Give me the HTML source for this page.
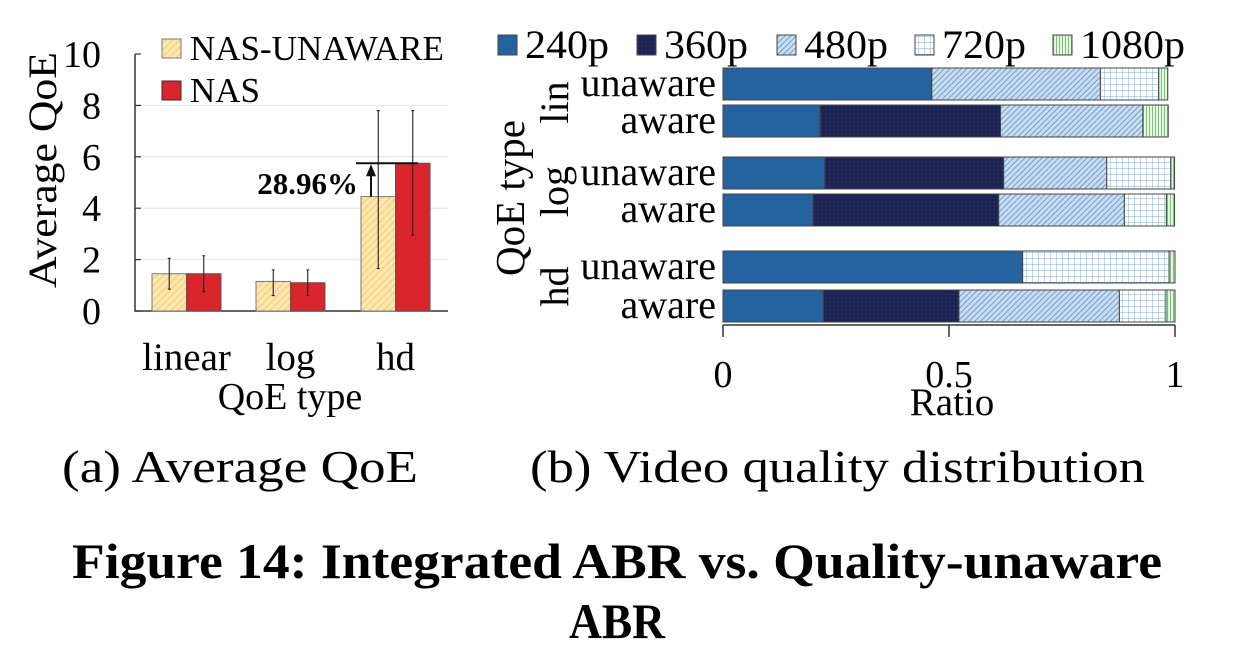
<!DOCTYPE html>
<html><head><meta charset="utf-8"><style>
html,body{margin:0;padding:0;background:#fff;}
svg{display:block;font-family:"Liberation Serif",serif;}
</style></head><body>
<svg id="fig" width="1234" height="662" viewBox="0 0 1234 662" xmlns="http://www.w3.org/2000/svg">
<defs>
<pattern id="pUn" width="5" height="5" patternUnits="userSpaceOnUse" patternTransform="rotate(45)"><rect width="5" height="5" fill="#fde7b0"/><line x1="0" y1="0" x2="0" y2="5" stroke="#f3c25a" stroke-width="1.6"/></pattern>
<pattern id="p360" width="4" height="4" patternUnits="userSpaceOnUse"><rect width="4" height="4" fill="#1c2252"/><circle cx="2" cy="2" r="0.5" fill="#4a5590"/></pattern>
<pattern id="p480" width="4" height="4" patternUnits="userSpaceOnUse" patternTransform="rotate(45)"><rect width="4" height="4" fill="#c9dcf0"/><line x1="0" y1="0" x2="0" y2="4" stroke="#4f86c6" stroke-width="1.4"/></pattern>
<pattern id="p720" width="6" height="6" patternUnits="userSpaceOnUse"><rect width="6" height="6" fill="#fff"/><path d="M0 0H6M0 0V6" stroke="#6cb2e0" stroke-width="1"/></pattern>
<pattern id="p1080" width="3" height="3" patternUnits="userSpaceOnUse"><rect width="3" height="3" fill="#e6f4e2"/><line x1="0.5" y1="0" x2="0.5" y2="3" stroke="#7cc27a" stroke-width="1"/></pattern>
</defs>
<g id="left"></g>
<g id="right"></g>
<text x="62" y="482" font-size="46" textLength="356" lengthAdjust="spacingAndGlyphs">(a) Average QoE</text>
<text x="530" y="482" font-size="46" textLength="615" lengthAdjust="spacingAndGlyphs">(b) Video quality distribution</text>
<text x="72" y="578" font-size="50" font-weight="bold" textLength="1090" lengthAdjust="spacingAndGlyphs">Figure 14: Integrated ABR vs. Quality-unaware</text>
<text x="617" y="638" font-size="50" font-weight="bold" text-anchor="middle" textLength="96" lengthAdjust="spacingAndGlyphs">ABR</text>
</svg>
<script>
const qoeCats = ['linear','log','hd'];
const unawareVals = [1.45, 1.15, 4.45];
const nasVals = [1.45, 1.1, 5.75];
const unawareErrLo = [0.85, 0.6, 1.65];
const unawareErrHi = [2.05, 1.6, 7.8];
const nasErrLo = [0.75, 0.6, 2.95];
const nasErrHi = [2.15, 1.6, 7.8];
const yTicks = [0,2,4,6,8,10];

const rowLabels = ['unaware','aware','unaware','aware','unaware','aware'];
const groupLabels = ['lin','log','hd'];
const qualityNames = ['240p','360p','480p','720p','1080p'];
const r240 = [0.462,0.215,0.225,0.199,0.663,0.222];
const r360 = [0,0.399,0.396,0.411,0,0.300];
const r480 = [0.373,0.315,0.228,0.278,0,0.355];
const r720 = [0.129,0,0.142,0.093,0.324,0.103];
const r1080 = [0.020,0.056,0.008,0.018,0.013,0.020];
const xTicks = [0,0.5,1];
const xTickLabels = ['0','0.5','1'];

const NS='http://www.w3.org/2000/svg';
function mk(parent,tag,attrs,text){const e=document.createElementNS(NS,tag);for(const k in attrs)e.setAttribute(k,attrs[k]);if(text!==undefined)e.textContent=text;parent.appendChild(e);return e;}

// Left chart
const L=document.getElementById('left');
const y=v=>311-v*25.7;
const groupX=[152,256,361], bw=34.5;
yTicks.forEach(t=>{
  if(t>0&&t<10){const g=mk(L,'line',{x1:135,x2:448,y1:y(t),y2:y(t),stroke:'#e2e2e2','stroke-width':1});
  
  }
  const tk=mk(L,'line',{x1:135,x2:141,y1:y(t),y2:y(t),stroke:'#333','stroke-width':1.2});
  
  
  const lb=mk(L,'text',{x:101,y:y(t)+13,'font-size':38,'text-anchor':'end'},String(t));
  
  
});
const ax=mk(L,'path',{d:'M135 54V311H448',fill:'none',stroke:'#333','stroke-width':1.5});


qoeCats.forEach((c,i)=>{
  const x0=groupX[i];
  const b1=mk(L,'rect',{x:x0,y:y(unawareVals[i]),width:bw,height:311-y(unawareVals[i]),fill:'url(#pUn)',stroke:'#777','stroke-width':1});
  
  
  const b2=mk(L,'rect',{x:x0+bw,y:y(nasVals[i]),width:bw,height:311-y(nasVals[i]),fill:'#d9252b',stroke:'#555','stroke-width':1});
  
  
  [[x0+bw/2,unawareErrLo[i],unawareErrHi[i]],[x0+bw*1.5,nasErrLo[i],nasErrHi[i]]].forEach(([cx,lo,hi])=>{
    const e=mk(L,'path',{d:`M${cx} ${y(lo)}V${y(hi)}M${cx-1.5} ${y(lo)}H${cx+1.5}M${cx-1.5} ${y(hi)}H${cx+1.5}`,stroke:'#222','stroke-width':1.1,fill:'none'});
    
    
  });
  const xl=mk(L,'text',{x:x0+bw,y:370,'font-size':39,'text-anchor':'middle'},c);
  
  
});
const hdTop=y(nasVals[2]);
const an=mk(L,'path',{d:`M356 ${hdTop}H418M371 ${y(unawareVals[2])}V${hdTop+12}`,stroke:'#111','stroke-width':2,fill:'none'});


const ah=mk(L,'path',{d:`M366 ${hdTop+13}L371 ${hdTop+1}L376 ${hdTop+13}Z`,fill:'#111'});


const at=mk(L,'text',{x:358,y:194,'font-size':31,'font-weight':'bold','text-anchor':'end'},'28.96%');


const xt=mk(L,'text',{x:290,y:409,'font-size':38,'text-anchor':'middle'},'QoE type');


const yt=mk(L,'text',{x:0,y:0,'font-size':40,'text-anchor':'middle',textLength:236,lengthAdjust:'spacingAndGlyphs',transform:'translate(56,170) rotate(-90)'},'Average QoE');


[['url(#pUn)','#777','NAS-UNAWARE',39],['#d9252b','#333','NAS',81]].forEach(([f,s,t,yy])=>{
  const sw=mk(L,'rect',{x:162,y:yy,width:19,height:19,fill:f,stroke:s,'stroke-width':1});
  
  
  const lt=mk(L,'text',{x:190,y:yy+21,'font-size':35},t);
  
  
});

// Right chart
const R=document.getElementById('right');
const X=v=>723+v*452;
const rowY=[68,105,157,194,251,290], bh=32;
const series=[r240,r360,r480,r720,r1080];
const fills=['#2563a0','url(#p360)','url(#p480)','url(#p720)','url(#p1080)'];
rowLabels.forEach((lab,i)=>{
  let acc=0;
  series.forEach((s,k)=>{
    const v=s[i]; if(v<=0)return;
    const r=mk(R,'rect',{x:X(acc),y:rowY[i],width:X(acc+v)-X(acc),height:bh,fill:fills[k],stroke:'#444','stroke-width':1});
    
    
    acc+=v;
  });
  const t=mk(R,'text',{x:716,y:rowY[i]+28,'font-size':40,'text-anchor':'end'},lab);
  
  
});
groupLabels.forEach((g,j)=>{
  const cy=(rowY[2*j]+rowY[2*j+1]+bh)/2;
  const t=mk(R,'text',{x:0,y:0,'font-size':40,'text-anchor':'middle',transform:`translate(568,${cy}) rotate(-90)`},g);
  
  
});
const rq=mk(R,'text',{x:0,y:0,'font-size':41,'text-anchor':'middle',transform:'translate(524,198) rotate(-90)'},'QoE type');


const xa=mk(R,'line',{x1:X(0),x2:X(1),y1:325,y2:325,stroke:'#333','stroke-width':1.5});


xTicks.forEach((t,i)=>{
  const tk=mk(R,'line',{x1:X(t),x2:X(t),y1:325,y2:337,stroke:'#333','stroke-width':1.5});
  
  
  const lb=mk(R,'text',{x:X(t),y:387,'font-size':38,'text-anchor':'middle'},xTickLabels[i]);
  
  
});
const rx=mk(R,'text',{x:952,y:415,'font-size':39,'text-anchor':'middle'},'Ratio');


const legX=[498,637,777,915,1053];
qualityNames.forEach((q,k)=>{
  const sw=mk(R,'rect',{x:legX[k],y:35,width:19,height:20,fill:fills[k],stroke:'#444','stroke-width':1});
  
  
  const lt=mk(R,'text',{x:legX[k]+27,y:58,'font-size':40,textLength:(q.length*21),lengthAdjust:'spacingAndGlyphs'},q);
  
  
});
</script>
</body></html>
